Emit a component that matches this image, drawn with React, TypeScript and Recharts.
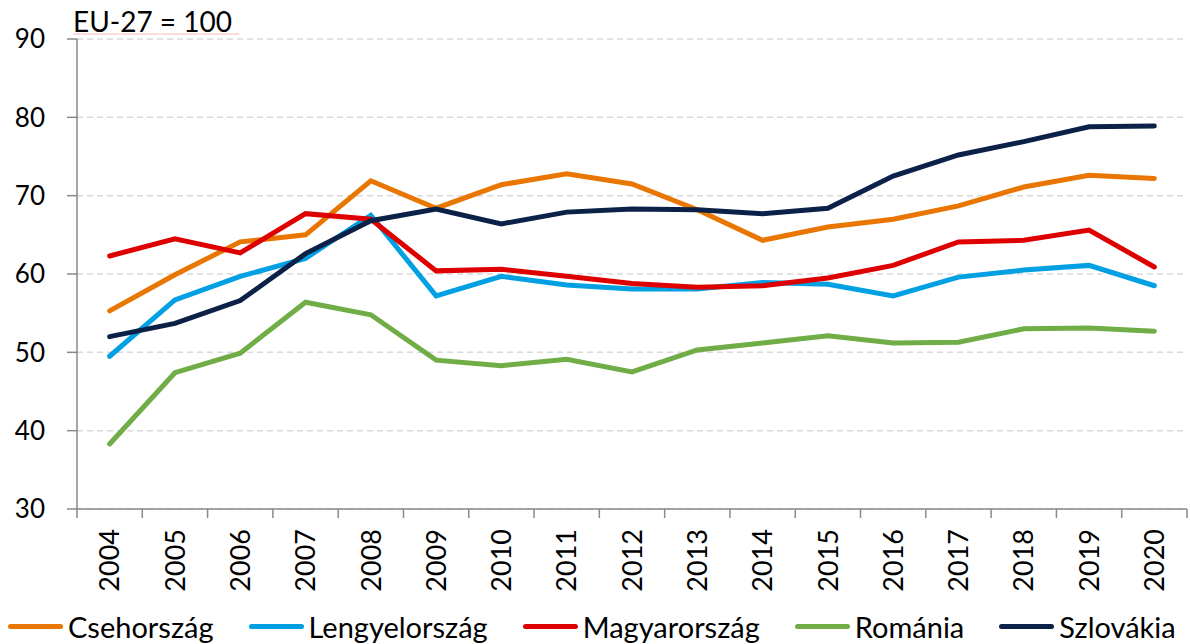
import React from 'react';
import { LineChart, Line, XAxis, YAxis, CartesianGrid, Legend, Customized } from 'recharts';

const years = ['2004','2005','2006','2007','2008','2009','2010','2011','2012','2013','2014','2015','2016','2017','2018','2019','2020'];
const csehorszag = [55.3, 59.9, 64.1, 65.0, 71.9, 68.4, 71.4, 72.8, 71.5, 68.2, 64.3, 66.0, 67.0, 68.7, 71.1, 72.6, 72.2];
const lengyelorszag = [49.5, 56.7, 59.7, 62.0, 67.5, 57.2, 59.7, 58.6, 58.1, 58.1, 58.9, 58.7, 57.2, 59.6, 60.5, 61.1, 58.5];
const magyarorszag = [62.3, 64.5, 62.7, 67.7, 67.0, 60.4, 60.6, 59.7, 58.8, 58.3, 58.5, 59.5, 61.1, 64.1, 64.3, 65.6, 60.9];
const romania = [38.3, 47.4, 49.9, 56.4, 54.8, 49.0, 48.3, 49.1, 47.5, 50.3, 51.2, 52.1, 51.2, 51.3, 53.0, 53.1, 52.7];
const szlovakia = [52.0, 53.7, 56.6, 62.6, 66.8, 68.3, 66.4, 67.9, 68.3, 68.2, 67.7, 68.4, 72.5, 75.2, 76.9, 78.8, 78.9];
const yTicks = [30, 40, 50, 60, 70, 80, 90];

const series = [
  { key: 'Csehország', values: csehorszag, color: '#E87600' },
  { key: 'Lengyelország', values: lengyelorszag, color: '#00A0E3' },
  { key: 'Magyarország', values: magyarorszag, color: '#DE0000' },
  { key: 'Románia', values: romania, color: '#70AD47' },
  { key: 'Szlovákia', values: szlovakia, color: '#0C2148' },
];

const data = years.map((year, i) => {
  const row: any = { year };
  series.forEach((s) => { row[s.key] = s.values[i]; });
  return row;
});

const FONT = 'Lato, "Open Sans", sans-serif';
const AXIS = '#898989';
const HALF_BAND = 1110 / 34;
const TICK_SIZE = 9;
const TICK_MARGIN = 11;

const YearTick = (props: any) => {
  const { x, y, payload, index } = props;
  const axisY = y - TICK_SIZE - TICK_MARGIN;
  const last = index === years.length - 1;
  return (
    <g>
      <line x1={x - HALF_BAND} x2={x - HALF_BAND} y1={axisY} y2={axisY + TICK_SIZE} stroke={AXIS} strokeWidth={1.5} />
      {last && (
        <line x1={x + HALF_BAND} x2={x + HALF_BAND} y1={axisY} y2={axisY + TICK_SIZE} stroke={AXIS} strokeWidth={1.5} />
      )}
      <text
        x={x}
        y={y}
        dy="0.36em"
        transform={`rotate(-90 ${x} ${y})`}
        textAnchor="end"
        fontSize={27}
        fontFamily={FONT}
        fill="#000"
      >
        {payload.value}
      </text>
    </g>
  );
};

const renderLegend = () => (
  <div style={{ display: 'flex', alignItems: 'center', boxSizing: 'border-box', paddingLeft: 8, height: 40, paddingTop: 5, fontFamily: FONT, fontSize: 29, color: '#000', whiteSpace: 'nowrap' }}>
    {series.map((s) => (
      <div key={s.key} style={{ display: 'flex', alignItems: 'center', marginRight: 35 }}>
        <div style={{ width: 55, height: 5, borderRadius: 3, background: s.color, marginRight: 5 }} />
        <span>{s.key}</span>
      </div>
    ))}
  </div>
);

const Title = () => (
  <g>
    <text x={73} y={32} fontSize={28} fontFamily={FONT} fill="#000">EU-27 = 100</text>
    <line x1={73} x2={239} y1={34} y2={34} stroke="#f2b8b8" strokeWidth={1} />
  </g>
);

export default function App() {
  return (
    <div style={{ position: 'absolute', left: 0, top: 0, background: '#fff' }}>
      <LineChart width={1190} height={644} data={data} margin={{ top: 39, right: 3, bottom: 0, left: 0 }}>
        <CartesianGrid vertical={false} stroke="#d9d9d9" strokeDasharray="6 4" strokeWidth={1.5} />
        <XAxis
          dataKey="year"
          padding={{ left: HALF_BAND, right: HALF_BAND }}
          height={95}
          interval={0}
          tickLine={false}
          tickSize={TICK_SIZE}
          tickMargin={TICK_MARGIN}
          axisLine={{ stroke: AXIS, strokeWidth: 1.5 }}
          tick={<YearTick />}
        />
        <YAxis
          domain={[30, 90]}
          ticks={yTicks}
          interval={0}
          width={77}
          tickSize={10}
          tickMargin={22}
          axisLine={{ stroke: AXIS, strokeWidth: 1.5 }}
          tickLine={{ stroke: AXIS, strokeWidth: 1.5 }}
          tick={{ fontSize: 26, fill: '#000', fontFamily: FONT }}
        />
        {series.map((s) => (
          <Line
            key={s.key}
            type="linear"
            dataKey={s.key}
            stroke={s.color}
            strokeWidth={5}
            strokeLinecap="round"
            dot={false}
            activeDot={false}
            isAnimationActive={false}
          />
        ))}
        <Legend verticalAlign="bottom" align="left" content={renderLegend} />
        <Customized component={Title} />
      </LineChart>
    </div>
  );
}
